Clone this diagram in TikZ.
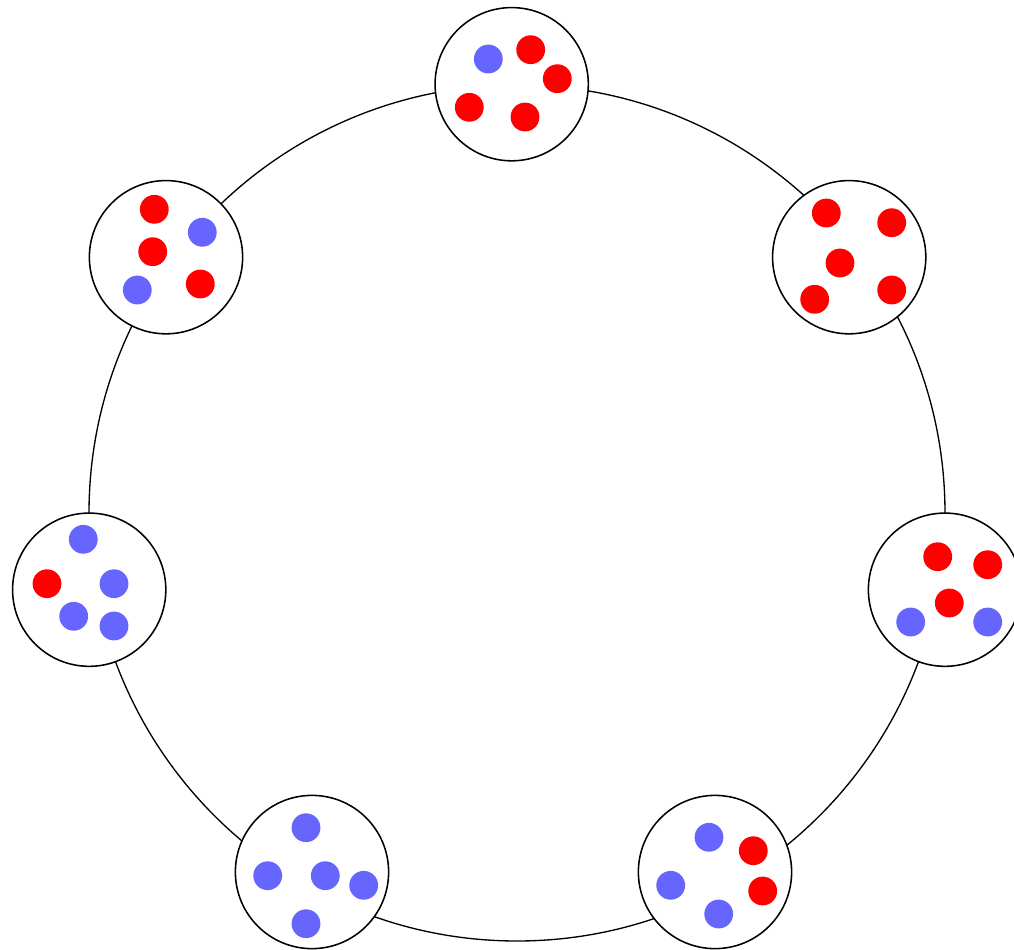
\documentclass[tikz,border=0pt]{standalone}
\usepackage{xcolor}
\definecolor{dotred}{RGB}{255,0,0}
\definecolor{dotblue}{RGB}{102,102,255}
\usepackage{tikz}
\tikzset{
  ring/.style={draw=black, line width=0.95pt},
  urn/.style={
    circle, draw=black, fill=white, line width=1.1pt,
    minimum size=3.83cm, inner sep=0pt
  },
  reddot/.style={circle, fill=dotred, minimum size=0.72cm, inner sep=0pt},
  bluedot/.style={circle, fill=dotblue, minimum size=0.72cm, inner sep=0pt},
}

\begin{document}
\begin{tikzpicture}[x=0.025cm, y=-0.025cm]
  \useasboundingbox (0,0) rectangle (1014,949);

  % ring behind the urns
  \coordinate (centre) at (517,513);
  \draw [ring] (centre) circle [radius=428];

  % urns
  \node (urnT)  [urn] at (511.7,84.2)  {};
  \node (urnUR) [urn] at (849.2,257.2) {};
  \node (urnR)  [urn] at (945,589.7)   {};
  \node (urnLR) [urn] at (715,872)     {};
  \node (urnLL) [urn] at (312,872)     {};
  \node (urnL)  [urn] at (89.2,589.7)  {};
  \node (urnUL) [urn] at (166,257.2)   {};

  % top urn
  \node (t1) [bluedot] at (488.3,59)    {};
  \node (t2) [reddot]  at (530.7,49.7)  {};
  \node (t3) [reddot]  at (557.3,78.7)  {};
  \node (t4) [reddot]  at (469.3,107.3) {};
  \node (t5) [reddot]  at (525,117)     {};

  % upper right urn
  \node (ur1) [reddot] at (826.3,213)   {};
  \node (ur2) [reddot] at (891.7,222.7) {};
  \node (ur3) [reddot] at (840,263)     {};
  \node (ur4) [reddot] at (814.7,299.3) {};
  \node (ur5) [reddot] at (891.7,290)   {};

  % right urn
  \node (r1) [reddot]  at (937.7,556.7) {};
  \node (r2) [reddot]  at (987.7,564.7) {};
  \node (r3) [reddot]  at (949.3,603)   {};
  \node (r4) [bluedot] at (910.7,622)   {};
  \node (r5) [bluedot] at (987.7,622)   {};

  % lower right urn
  \node (lr1) [bluedot] at (709,837.3)   {};
  \node (lr2) [reddot]  at (753.3,850.7) {};
  \node (lr3) [bluedot] at (670.7,885.3) {};
  \node (lr4) [reddot]  at (762.7,891)   {};
  \node (lr5) [bluedot] at (718.7,914)   {};

  % lower left urn
  \node (ll1) [bluedot] at (306,827.7)   {};
  \node (ll2) [bluedot] at (267.7,875.7) {};
  \node (ll3) [bluedot] at (325.3,875.7) {};
  \node (ll4) [bluedot] at (363.7,885.3) {};
  \node (ll5) [bluedot] at (306,923.7)   {};

  % left urn
  \node (l1) [bluedot] at (83.3,539.3) {};
  \node (l2) [reddot]  at (47,583.7)   {};
  \node (l3) [bluedot] at (114,583.7)  {};
  \node (l4) [bluedot] at (73.7,616.3) {};
  \node (l5) [bluedot] at (114,626)    {};

  % upper left urn
  \node (ul1) [reddot]  at (154.3,209.3) {};
  \node (ul2) [bluedot] at (202.3,232.3) {};
  \node (ul3) [reddot]  at (152.7,251.7) {};
  \node (ul4) [bluedot] at (137.3,290)   {};
  \node (ul5) [reddot]  at (200.3,284)   {};
\end{tikzpicture}
\end{document}
